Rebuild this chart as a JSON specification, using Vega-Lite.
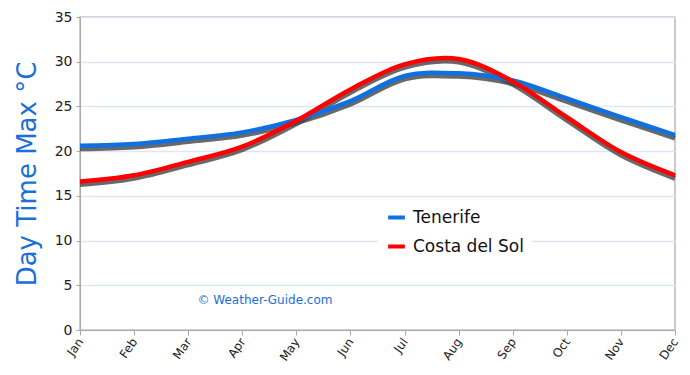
{
  "$schema": "https://vega.github.io/schema/vega-lite/v6.json",
  "width": 595,
  "height": 313,
  "autosize": {"type": "none"},
  "padding": {"left": 80, "top": 17, "right": 15, "bottom": 45},
  "background": "white",
  "config": {
    "view": {"stroke": "#bbbbbb", "strokeWidth": 1.5},
    "font": "DejaVu Sans"
  },
  "datasets": {
    "temps": [
      {"m": 1, "city": "Tenerife", "t": 20.6},
      {"m": 2, "city": "Tenerife", "t": 20.8},
      {"m": 3, "city": "Tenerife", "t": 21.4},
      {"m": 4, "city": "Tenerife", "t": 22.1},
      {"m": 5, "city": "Tenerife", "t": 23.5},
      {"m": 6, "city": "Tenerife", "t": 25.6},
      {"m": 7, "city": "Tenerife", "t": 28.4},
      {"m": 8, "city": "Tenerife", "t": 28.7},
      {"m": 9, "city": "Tenerife", "t": 27.9},
      {"m": 10, "city": "Tenerife", "t": 25.9},
      {"m": 11, "city": "Tenerife", "t": 23.8},
      {"m": 12, "city": "Tenerife", "t": 21.8},
      {"m": 1, "city": "Costa del Sol", "t": 16.6},
      {"m": 2, "city": "Costa del Sol", "t": 17.3},
      {"m": 3, "city": "Costa del Sol", "t": 18.8},
      {"m": 4, "city": "Costa del Sol", "t": 20.5},
      {"m": 5, "city": "Costa del Sol", "t": 23.4},
      {"m": 6, "city": "Costa del Sol", "t": 26.9},
      {"m": 7, "city": "Costa del Sol", "t": 29.7},
      {"m": 8, "city": "Costa del Sol", "t": 30.3},
      {"m": 9, "city": "Costa del Sol", "t": 27.8},
      {"m": 10, "city": "Costa del Sol", "t": 23.8},
      {"m": 11, "city": "Costa del Sol", "t": 19.9},
      {"m": 12, "city": "Costa del Sol", "t": 17.3}
    ],
    "note": [
      {"m": 4.42, "t": 3.4, "label": "© Weather-Guide.com"}
    ]
  },
  "layer": [
    {
      "data": {"name": "temps"},
      "mark": {"type": "line", "interpolate": "cardinal", "strokeWidth": 5, "color": "#444444", "opacity": 0.8, "yOffset": 3, "strokeCap": "butt"},
      "encoding": {
        "x": {
          "field": "m", "type": "quantitative",
          "scale": {"domain": [1, 12], "nice": false, "zero": false},
          "axis": {
            "values": [1,2,3,4,5,6,7,8,9,10,11,12],
            "labelExpr": "['Jan','Feb','Mar','Apr','May','Jun','Jul','Aug','Sep','Oct','Nov','Dec'][datum.value-1]",
            "labelAngle": -55, "labelAlign": "right", "labelBaseline": "middle",
            "labelFontSize": 12, "labelColor": "#222222", "labelPadding": 4,
            "grid": false, "domainColor": "#aaaaaa", "tickColor": "#aaaaaa", "tickSize": 5,
            "title": null
          }
        },
        "y": {
          "field": "t", "type": "quantitative",
          "scale": {"domain": [0, 35], "nice": false},
          "axis": {
            "values": [0,5,10,15,20,25,30,35],
            "labelFontSize": 14, "labelColor": "#222222", "labelPadding": 4,
            "gridColor": "#dde6f4", "gridWidth": 1.5,
            "domainColor": "#aaaaaa", "tickColor": "#aaaaaa", "tickSize": 4,
            "title": "Day Time Max °C", "titleFontSize": 26, "titleFontWeight": "normal",
            "titleColor": "#1a6fd8", "titlePadding": 14
          }
        },
        "detail": {"field": "city", "type": "nominal"}
      }
    },
    {
      "data": {"name": "temps"},
      "mark": {"type": "line", "interpolate": "cardinal", "strokeWidth": 4.5, "strokeCap": "butt"},
      "encoding": {
        "x": {"field": "m", "type": "quantitative"},
        "y": {"field": "t", "type": "quantitative"},
        "color": {
          "field": "city", "type": "nominal",
          "scale": {"domain": ["Tenerife", "Costa del Sol"], "range": ["#1170e0", "#ff0000"]},
          "legend": {
            "orient": "none", "legendX": 298, "legendY": 182,
            "title": null, "symbolType": "stroke", "symbolStrokeWidth": 4, "symbolSize": 280,
            "labelFontSize": 17, "labelColor": "#111111", "rowPadding": 10,
            "fillColor": "white", "padding": 8, "labelOffset": 6
          }
        }
      }
    },
    {
      "data": {"name": "note"},
      "mark": {"type": "text", "color": "#1a6fd8", "fontSize": 12, "align": "center", "baseline": "middle"},
      "encoding": {
        "x": {"field": "m", "type": "quantitative"},
        "y": {"field": "t", "type": "quantitative"},
        "text": {"field": "label"}
      }
    }
  ]
}
